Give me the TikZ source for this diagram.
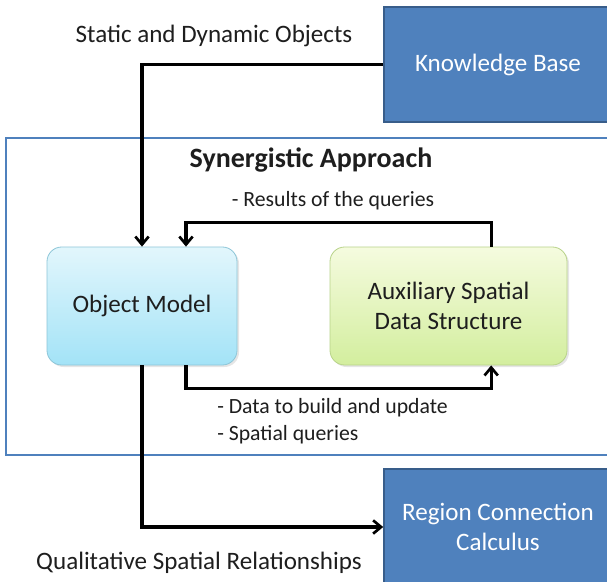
\documentclass[tikz,border=0pt]{standalone}
\usepackage{fontspec}
\setmainfont{Carlito}
\usetikzlibrary{arrows.meta,shadows}
\definecolor{kbblue}{HTML}{4F81BD}
\definecolor{kbedge}{HTML}{385D8A}
\definecolor{txtgray}{HTML}{1E1E1E}
\definecolor{omtop}{HTML}{E2F6FC}
\definecolor{ombot}{HTML}{A3E3F7}
\definecolor{omedge}{HTML}{8DC6D8}
\definecolor{astop}{HTML}{F5FBDF}
\definecolor{asbot}{HTML}{D3EE9E}
\definecolor{asedge}{HTML}{B8D389}
\tikzset{
  bluebox/.style={rectangle, fill=kbblue, draw=kbedge, line width=1.2pt, text=white, align=center},
  softbox/.style={rectangle, rounded corners=11pt, line width=0.6pt, align=center, text=txtgray,
    drop shadow={opacity=0.2, shadow xshift=1.5pt, shadow yshift=-1.5pt}},
  lbl/.style={text=txtgray, inner sep=0pt},
  small/.style={lbl, font=\fontsize{16.3}{20}\selectfont},
  arr/.style={line width=2.3pt, -{Straight Barb[length=6pt,width=10pt,line width=2pt]}},
}
\begin{document}
\begin{tikzpicture}[x=0.75pt, y=-0.75pt, font=\fontsize{18.8}{23}\selectfont]
\useasboundingbox (0,0) rectangle (607,582);
\fill[white] (0,0) rectangle (607,582);
% frame of the approach
\draw[kbblue, line width=1.6pt] (6,138) rectangle (615,455);
\node[lbl, font=\fontsize{21}{25}\bfseries] (title) at (311,160) {Synergistic Approach};
% boxes
\node[bluebox, minimum width=171pt, minimum height=86pt] (kb) at (498,64.5) {Knowledge Base};
\node[bluebox, minimum width=171pt, minimum height=87pt] (rcc) at (498,527) {Region Connection\\Calculus};
\node[softbox, draw=omedge, top color=omtop, bottom color=ombot,
  minimum width=142.5pt, minimum height=88.5pt] (om) at (142,306) {Object Model};
\node[softbox, draw=asedge, top color=astop, bottom color=asbot,
  minimum width=177.75pt, minimum height=88.5pt] (asds) at (448.5,306) {Auxiliary Spatial\\Data Structure};
% labels
\node[lbl] (sdo) at (214,36) {Static and Dynamic Objects};
\node[small] (res) at (333,201) {- Results of the queries};
\node[small, anchor=west] (dtb) at (217,408) {- Data to build and update};
\node[small, anchor=west] (spq) at (217,435) {- Spatial queries};
\node[lbl] (qsr) at (199,563) {Qualitative Spatial Relationships};
% connectors
\draw[arr] (kb.west) -| (om.north);
\draw[arr] ([xshift=32pt]asds.north) -- ++(0,-24) -| ([xshift=33pt]om.north);
\draw[arr] ([xshift=33pt]om.south) -- ++(0,23) -| ([xshift=32pt]asds.south);
\draw[arr] (om.south) |- (rcc.west);
\end{tikzpicture}
\end{document}
